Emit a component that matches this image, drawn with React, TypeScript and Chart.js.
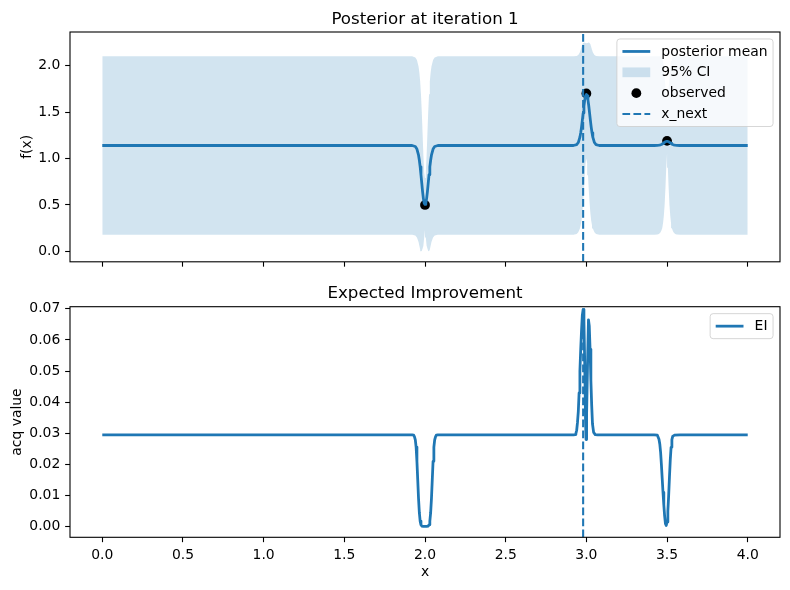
import React, { useEffect, useRef } from 'react';
import { Chart, registerables } from 'chart.js';

Chart.register(...registerables);

// ---------- data ----------
const X_TICKS = [0, 0.5, 1, 1.5, 2, 2.5, 3, 3.5, 4];
const POST_Y_TICKS = [0, 0.5, 1, 1.5, 2];
const EI_Y_TICKS = [0, 0.01, 0.02, 0.03, 0.04, 0.05, 0.06, 0.07];

const X_RANGE = [-0.2, 4.2];
const POST_Y_RANGE = [-0.1125, 2.3625];
const EI_Y_RANGE = [-0.0034, 0.0707];

const POST_X = [
  0.0,
  1.92, 1.94, 1.95, 1.96, 1.965, 1.97, 1.975, 1.98, 1.985, 1.99, 1.995,
  2.0,
  2.005, 2.01, 2.015, 2.02, 2.025, 2.03, 2.035, 2.04, 2.05, 2.06, 2.08,
  2.92, 2.94, 2.95, 2.96, 2.965, 2.97, 2.975, 2.98, 2.985, 2.99, 2.995,
  3.0,
  3.005, 3.01, 3.015, 3.02, 3.025, 3.03, 3.035, 3.04, 3.05, 3.06, 3.08,
  3.42, 3.44, 3.45, 3.46, 3.465, 3.47, 3.475, 3.48, 3.485, 3.49, 3.495,
  3.5,
  3.505, 3.51, 3.515, 3.52, 3.525, 3.53, 3.535, 3.54, 3.55, 3.56, 3.58,
  4.0,
];

const POST_MEAN = [
  1.14,
  1.14, 1.129, 1.102, 1.036, 0.981, 0.91, 0.825, 0.734, 0.644, 0.568, 0.518,
  0.505,
  0.518, 0.568, 0.644, 0.734, 0.825, 0.91, 0.981, 1.036, 1.102, 1.129, 1.14,
  1.14, 1.149, 1.172, 1.23, 1.277, 1.338, 1.411, 1.489, 1.566, 1.631, 1.675,
  1.69,
  1.675, 1.631, 1.566, 1.489, 1.411, 1.338, 1.277, 1.23, 1.172, 1.149, 1.14,
  1.14, 1.141, 1.143, 1.147, 1.151, 1.156, 1.162, 1.169, 1.175, 1.18, 1.184,
  1.185,
  1.184, 1.18, 1.175, 1.169, 1.162, 1.156, 1.151, 1.147, 1.143, 1.141, 1.14,
  1.14,
];

const POST_UPPER = [
  2.1,
  2.1, 2.089, 2.062, 1.992, 1.927, 1.832, 1.693, 1.505, 1.273, 1.034, 0.85,
  0.79,
  0.85, 1.034, 1.273, 1.505, 1.693, 1.832, 1.927, 1.992, 2.062, 2.089, 2.1,
  2.1, 2.104, 2.115, 2.145, 2.17, 2.2, 2.23, 2.245, 2.25, 2.248, 2.245,
  2.24,
  2.245, 2.248, 2.25, 2.245, 2.23, 2.2, 2.17, 2.145, 2.115, 2.104, 2.1,
  2.1, 2.1, 2.102, 2.102, 2.096, 2.085, 2.05, 1.98, 1.88, 1.77, 1.68,
  1.64,
  1.68, 1.77, 1.88, 1.98, 2.05, 2.085, 2.096, 2.102, 2.102, 2.1, 2.1,
  2.1,
];

const POST_LOWER = [
  0.18,
  0.18, 0.172, 0.15, 0.1, 0.06, 0.02, 0.0, 0.005, 0.03, 0.06, 0.15,
  0.23,
  0.15, 0.06, 0.03, 0.005, 0.0, 0.02, 0.06, 0.1, 0.15, 0.172, 0.18,
  0.18, 0.187, 0.205, 0.245, 0.28, 0.33, 0.41, 0.52, 0.66, 0.82, 0.95,
  1.0,
  0.95, 0.82, 0.66, 0.52, 0.41, 0.33, 0.28, 0.245, 0.205, 0.187, 0.18,
  0.18, 0.182, 0.188, 0.205, 0.225, 0.25, 0.3, 0.38, 0.5, 0.68, 0.9,
  1.05,
  0.9, 0.68, 0.5, 0.38, 0.3, 0.25, 0.225, 0.205, 0.188, 0.182, 0.18,
  0.18,
];

const OBS_X = [2.0, 3.0, 3.5];
const OBS_Y = [0.5, 1.7, 1.19];

const X_NEXT = 2.98;

const EI_X = [
  0.0,
  1.92, 1.93, 1.935, 1.94, 1.945, 1.95, 1.955, 1.96, 1.965, 1.97, 1.975, 1.98, 1.99,
  2.0,
  2.01, 2.02, 2.025, 2.03, 2.035, 2.04, 2.045, 2.05, 2.055, 2.06, 2.065, 2.07, 2.08,
  2.92, 2.93, 2.935, 2.94, 2.945, 2.95, 2.955, 2.96, 2.965, 2.97,
  2.975, 2.98, 2.985, 2.99, 2.995, 2.998, 3.0, 3.003, 3.008, 3.013,
  3.018, 3.023, 3.028, 3.033, 3.038, 3.045, 3.055, 3.07,
  3.42, 3.44, 3.45, 3.455, 3.46, 3.465, 3.47, 3.475, 3.48, 3.485,
  3.49, 3.495, 3.5, 3.505, 3.51, 3.515, 3.52, 3.525, 3.53, 3.535,
  3.545, 3.58,
  4.0,
];

const EI_Y = [
  0.0295,
  0.0295, 0.0294, 0.0289, 0.0279, 0.0256, 0.021, 0.015, 0.009, 0.0045, 0.0018, 0.0006, 0.0002, 0.0001,
  0.0001,
  0.0001, 0.0002, 0.0006, 0.0018, 0.0045, 0.009, 0.015, 0.021, 0.0256, 0.0279, 0.0289, 0.0294, 0.0295,
  0.0295, 0.0296, 0.0299, 0.031, 0.0335, 0.037, 0.043, 0.05, 0.057, 0.063,
  0.068, 0.0698, 0.066, 0.052, 0.034, 0.028, 0.0285, 0.036, 0.054, 0.0665,
  0.0645, 0.057, 0.047, 0.039, 0.033, 0.0303, 0.0296, 0.0295,
  0.0295, 0.0294, 0.0281, 0.0266, 0.024, 0.02, 0.0155, 0.011, 0.007, 0.0035,
  0.001, 0.0004, 0.0015, 0.005, 0.01, 0.016, 0.0215, 0.0255, 0.028, 0.029,
  0.0294, 0.0295,
  0.0295,
];

// ---------- styling ----------
const BLUE = '#1f77b4';
const BAND = 'rgba(31,119,180,0.2)';
const FONT = "'DejaVu Sans', sans-serif";
const FS = 13.9; // 10pt
const TITLE_FS = 16.67; // 12pt
const TICK_LEN = 4.86;
const LINE_W = 2.78;
const DASH_W = 2.08;
const DASH = [7.7, 3.3];
const DOT_R = 4.9;

Chart.defaults.font.family = FONT;
Chart.defaults.font.size = FS;
Chart.defaults.color = '#000';

const pts = (xs: number[], ys: number[]) => xs.map((x, i) => ({ x, y: ys[i] }));

type LegendItem = { label: string; kind: 'line' | 'patch' | 'dot' | 'dash' };

function xScale(showLabels: boolean, height: number) {
  return {
    type: 'linear',
    min: X_RANGE[0],
    max: X_RANGE[1],
    afterBuildTicks: (s: any) => {
      s.ticks = X_TICKS.map((v) => ({ value: v }));
    },
    afterFit: (s: any) => {
      s.height = height;
    },
    ticks: {
      display: showLabels,
      autoSkip: false,
      maxRotation: 0,
      minRotation: 0,
      padding: 4.86,
      color: '#000',
      font: { family: FONT, size: FS },
      callback: (v: any) => Number(v).toFixed(1),
    },
    grid: {
      display: true,
      drawOnChartArea: false,
      drawTicks: true,
      tickLength: TICK_LEN,
      tickColor: '#000',
      tickWidth: 1.1,
    },
    border: { display: false },
  };
}

function yScale(range: number[], ticks: number[], digits: number) {
  return {
    type: 'linear',
    min: range[0],
    max: range[1],
    afterBuildTicks: (s: any) => {
      s.ticks = ticks.map((v) => ({ value: v }));
    },
    afterFit: (s: any) => {
      s.width = 70;
    },
    ticks: {
      padding: 4.86,
      color: '#000',
      font: { family: FONT, size: FS },
      callback: (v: any) => Number(v).toFixed(digits),
    },
    grid: {
      display: true,
      drawOnChartArea: false,
      drawTicks: true,
      tickLength: TICK_LEN,
      tickColor: '#000',
      tickWidth: 1.1,
    },
    border: { display: false },
  };
}

function decorations(opts: {
  title: string;
  ylabel: string;
  ylabelX: number;
  xlabel?: string;
  legend: LegendItem[];
}) {
  return {
    id: 'decorations',
    afterDatasetsDraw(chart: any) {
      const { ctx, chartArea: a } = chart;
      ctx.save();
      // axes frame
      ctx.strokeStyle = '#000';
      ctx.lineWidth = 1.1;
      ctx.setLineDash([]);
      ctx.strokeRect(a.left, a.top, a.right - a.left, a.bottom - a.top);

      // legend box
      ctx.font = `${FS}px ${FONT}`;
      const pad = 0.4 * FS;
      const handleLen = 2 * FS;
      const textPad = 0.8 * FS;
      const rowH = FS;
      const gap = 0.5 * FS;
      const textW = Math.max(...opts.legend.map((it) => ctx.measureText(it.label).width));
      const w = pad * 2 + handleLen + textPad + textW;
      const h = pad * 2 + opts.legend.length * rowH + (opts.legend.length - 1) * gap;
      const right = a.right - 0.5 * FS;
      const top = a.top + 0.5 * FS;
      const left = right - w;
      ctx.beginPath();
      ctx.roundRect(left, top, w, h, 3);
      ctx.fillStyle = 'rgba(255,255,255,0.8)';
      ctx.fill();
      ctx.strokeStyle = 'rgba(204,204,204,0.8)';
      ctx.lineWidth = 1;
      ctx.stroke();

      opts.legend.forEach((it, i) => {
        const cy = top + pad + i * (rowH + gap) + rowH / 2;
        const hx = left + pad;
        if (it.kind === 'line' || it.kind === 'dash') {
          ctx.beginPath();
          ctx.strokeStyle = BLUE;
          ctx.lineWidth = it.kind === 'line' ? LINE_W : DASH_W;
          ctx.setLineDash(it.kind === 'dash' ? DASH : []);
          ctx.moveTo(hx, cy);
          ctx.lineTo(hx + handleLen, cy);
          ctx.stroke();
          ctx.setLineDash([]);
        } else if (it.kind === 'patch') {
          ctx.fillStyle = BAND;
          ctx.fillRect(hx, cy - 0.35 * FS, handleLen, 0.7 * FS);
        } else {
          ctx.beginPath();
          ctx.fillStyle = '#000';
          ctx.arc(hx + handleLen / 2, cy, DOT_R, 0, Math.PI * 2);
          ctx.fill();
        }
        ctx.fillStyle = '#000';
        ctx.textAlign = 'left';
        ctx.textBaseline = 'middle';
        ctx.fillText(it.label, hx + handleLen + textPad, cy + 0.5);
      });
      ctx.restore();
    },
    afterDraw(chart: any) {
      const { ctx, chartArea: a } = chart;
      ctx.save();
      ctx.fillStyle = '#000';
      // title
      ctx.font = `${TITLE_FS}px ${FONT}`;
      ctx.textAlign = 'center';
      ctx.textBaseline = 'alphabetic';
      ctx.fillText(opts.title, (a.left + a.right) / 2, a.top - 8.33);
      // y label
      ctx.font = `${FS}px ${FONT}`;
      ctx.save();
      ctx.translate(opts.ylabelX, (a.top + a.bottom) / 2);
      ctx.rotate(-Math.PI / 2);
      ctx.textAlign = 'center';
      ctx.textBaseline = 'middle';
      ctx.fillText(opts.ylabel, 0, 0);
      ctx.restore();
      // x label
      if (opts.xlabel) {
        ctx.textAlign = 'center';
        ctx.textBaseline = 'alphabetic';
        ctx.fillText(opts.xlabel, (a.left + a.right) / 2, a.bottom + 38.5);
      }
      ctx.restore();
    },
  };
}

const baseOptions = {
  responsive: false,
  animation: false,
  devicePixelRatio: 1,
  events: [],
  plugins: { legend: { display: false }, tooltip: { enabled: false } },
  elements: { point: { radius: 0 }, line: { tension: 0 } },
};

export default function App() {
  const topRef = useRef<HTMLCanvasElement>(null);
  const botRef = useRef<HTMLCanvasElement>(null);

  useEffect(() => {
    const posterior = new Chart(topRef.current as HTMLCanvasElement, {
      type: 'line',
      data: {
        datasets: [
          {
            label: 'lower',
            data: pts(POST_X, POST_LOWER),
            borderColor: 'rgba(0,0,0,0)',
            borderWidth: 0,
            pointRadius: 0,
            fill: false,
            order: 5,
          },
          {
            label: '95% CI',
            data: pts(POST_X, POST_UPPER),
            borderColor: 'rgba(0,0,0,0)',
            borderWidth: 0,
            backgroundColor: BAND,
            pointRadius: 0,
            fill: '-1',
            order: 4,
          },
          {
            label: 'observed',
            data: pts(OBS_X, OBS_Y),
            showLine: false,
            pointRadius: DOT_R,
            pointBackgroundColor: '#000',
            pointBorderColor: '#000',
            pointBorderWidth: 0,
            order: 3,
          },
          {
            label: 'posterior mean',
            data: pts(POST_X, POST_MEAN),
            borderColor: BLUE,
            borderWidth: LINE_W,
            borderJoinStyle: 'round',
            pointRadius: 0,
            fill: false,
            order: 2,
          },
          {
            label: 'x_next',
            data: [
              { x: X_NEXT, y: POST_Y_RANGE[0] },
              { x: X_NEXT, y: POST_Y_RANGE[1] },
            ],
            borderColor: BLUE,
            borderWidth: DASH_W,
            borderDash: DASH,
            pointRadius: 0,
            fill: false,
            order: 1,
          },
        ],
      },
      options: {
        ...baseOptions,
        layout: { padding: { top: 32, right: 10, left: 0, bottom: 0 } },
        scales: {
          x: xScale(false, 12),
          y: yScale(POST_Y_RANGE, POST_Y_TICKS, 1),
        },
      } as any,
      plugins: [
        decorations({
          title: 'Posterior at iteration 1',
          ylabel: 'f(x)',
          ylabelX: 27,
          legend: [
            { label: 'posterior mean', kind: 'line' },
            { label: '95% CI', kind: 'patch' },
            { label: 'observed', kind: 'dot' },
            { label: 'x_next', kind: 'dash' },
          ],
        }),
      ],
    } as any);

    const improvement = new Chart(botRef.current as HTMLCanvasElement, {
      type: 'line',
      data: {
        datasets: [
          {
            label: 'EI',
            data: pts(EI_X, EI_Y),
            borderColor: BLUE,
            borderWidth: LINE_W,
            borderJoinStyle: 'round',
            pointRadius: 0,
            fill: false,
            order: 2,
          },
          {
            label: 'x_next',
            data: [
              { x: X_NEXT, y: EI_Y_RANGE[0] },
              { x: X_NEXT, y: EI_Y_RANGE[1] },
            ],
            borderColor: BLUE,
            borderWidth: DASH_W,
            borderDash: DASH,
            pointRadius: 0,
            fill: false,
            order: 1,
          },
        ],
      },
      options: {
        ...baseOptions,
        layout: { padding: { top: 31.7, right: 10, left: 0, bottom: 0 } },
        scales: {
          x: xScale(true, 52.7),
          y: yScale(EI_Y_RANGE, EI_Y_TICKS, 2),
        },
      } as any,
      plugins: [
        decorations({
          title: 'Expected Improvement',
          ylabel: 'acq value',
          ylabelX: 17,
          xlabel: 'x',
          legend: [{ label: 'EI', kind: 'line' }],
        }),
      ],
    } as any);

    return () => {
      posterior.destroy();
      improvement.destroy();
    };
  }, []);

  return (
    <div style={{ position: 'absolute', left: 0, top: 0, width: 790, height: 590, background: '#fff' }}>
      <canvas
        ref={topRef}
        width={790}
        height={275}
        style={{ position: 'absolute', left: 0, top: 0, width: 790, height: 275 }}
      />
      <canvas
        ref={botRef}
        width={790}
        height={315}
        style={{ position: 'absolute', left: 0, top: 275, width: 790, height: 315 }}
      />
    </div>
  );
}
